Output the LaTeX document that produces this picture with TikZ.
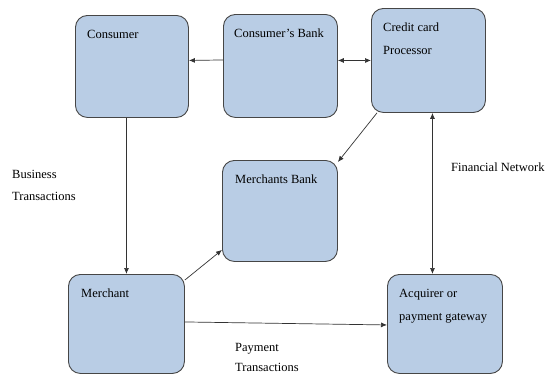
\documentclass[tikz,border=0pt]{standalone}
\usepackage{fontspec}
\setmainfont{Liberation Serif}
\usetikzlibrary{arrows.meta}
\definecolor{boxblue}{RGB}{185,205,229}
\definecolor{boxline}{RGB}{70,70,70}
\tikzset{
  box/.style={draw=boxline, line width=0.9pt, fill=boxblue, rounded corners=12pt,
    rectangle, anchor=north west, inner sep=0pt},
  boxtext/.style={anchor=north west, inner sep=0pt, align=left, xshift=12pt, yshift=-15pt},
  arr/.style={-{Latex[length=6pt,width=5pt]}, line width=0.7pt, draw=black!80},
  darr/.style={{Latex[length=6pt,width=5pt]}-{Latex[length=6pt,width=5pt]}, line width=0.7pt, draw=black!80}
}
\begin{document}
\begin{tikzpicture}[x=1pt, y=-1pt, every node/.style={font=\fontsize{12.5}{23}\selectfont}]
	\useasboundingbox (0,0) rectangle (552,376);
	\node[box, minimum width=113pt, minimum height=102pt] (consumer) at (75,15) {};
	\node[box, minimum width=114pt, minimum height=103pt] (cbank) at (223,14) {};
	\node[box, minimum width=114pt, minimum height=104pt] (ccp) at (371,8) {};
	\node[box, minimum width=115pt, minimum height=101pt] (mbank) at (222,160) {};
	\node[box, minimum width=116pt, minimum height=99pt] (merchant) at (68,274) {};
	\node[box, minimum width=115pt, minimum height=99pt] (acquirer) at (387,274) {};
	\node[boxtext] (consumertxt) at (consumer.north west) {Consumer};
	\node[boxtext, xshift=-1pt] (cbanktxt) at (cbank.north west) {Consumer's Bank};
	\node[boxtext] (ccptxt) at (ccp.north west) {Credit card\\Processor};
	\node[boxtext, xshift=1pt] (mbanktxt) at (mbank.north west) {Merchants Bank};
	\node[boxtext, xshift=1pt] (merchanttxt) at (merchant.north west) {Merchant};
	\node[boxtext] (acquirertxt) at (acquirer.north west) {Acquirer or\\payment gateway};
	\node[anchor=west, align=left, inner sep=0pt, font=\fontsize{12.5}{22}\selectfont] (business) at (12,185) {Business\\Transactions};
	\node[anchor=west, inner sep=0pt] (fnet) at (451,167) {Financial Network};
	\node[anchor=west, align=left, inner sep=0pt, font=\fontsize{12.5}{20}\selectfont] (payment) at (235,357) {Payment\\Transactions};
	\draw[arr] ([yshift=6pt]cbank.west) -- ([yshift=6pt]consumer.east);
	\draw[darr] ([yshift=5.5pt]cbank.east) -- (ccp.west);
	\draw[arr] (merchant.north |- consumer.south) -- (merchant.north);
	\draw[arr] ([xshift=6pt]ccp.south west) -- ([yshift=-2pt]mbank.north east);
	\draw[arr] ([yshift=-6pt]merchant.north east) -- ([yshift=12pt]mbank.south west);
	\draw[arr] ([yshift=2pt]merchant.east) -- ([yshift=-1pt]acquirer.west);
	\draw[darr] ([xshift=4pt]ccp.south) -- ([xshift=4pt]ccp.south |- acquirer.north);
\end{tikzpicture}
\end{document}
